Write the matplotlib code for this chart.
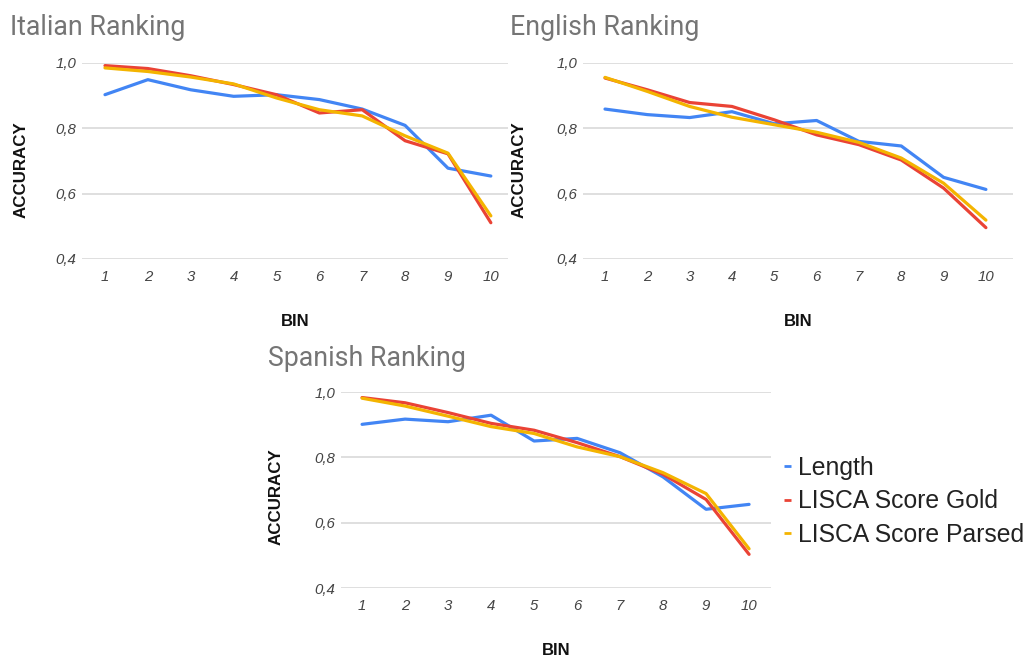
import matplotlib
matplotlib.use("Agg")
import matplotlib.pyplot as plt

plt.rcParams["font.family"] = ["Liberation Sans", "DejaVu Sans"]

bins = [1, 2, 3, 4, 5, 6, 7, 8, 9, 10]
series_names = ["Length", "LISCA Score Gold", "LISCA Score Parsed"]
series_colors = ["#4285F4", "#EA4335", "#F4B400"]

# Italian ranking accuracies per bin
it_length = [0.903, 0.949, 0.918, 0.898, 0.903, 0.888, 0.859, 0.809, 0.678, 0.654]
it_gold = [0.992, 0.983, 0.961, 0.934, 0.903, 0.847, 0.857, 0.762, 0.722, 0.511]
it_parsed = [0.985, 0.974, 0.957, 0.936, 0.893, 0.857, 0.838, 0.777, 0.724, 0.532]

# English ranking accuracies per bin
en_length = [0.859, 0.842, 0.833, 0.851, 0.814, 0.824, 0.760, 0.746, 0.650, 0.613]
en_gold = [0.954, 0.918, 0.879, 0.867, 0.826, 0.780, 0.750, 0.703, 0.617, 0.496]
en_parsed = [0.956, 0.913, 0.867, 0.834, 0.811, 0.788, 0.757, 0.709, 0.632, 0.519]

# Spanish ranking accuracies per bin
es_length = [0.901, 0.917, 0.909, 0.929, 0.850, 0.858, 0.814, 0.740, 0.641, 0.656]
es_gold = [0.983, 0.967, 0.937, 0.904, 0.883, 0.845, 0.802, 0.748, 0.671, 0.503]
es_parsed = [0.981, 0.957, 0.926, 0.894, 0.873, 0.832, 0.802, 0.753, 0.689, 0.520]

y_ticks = [0.4, 0.6, 0.8, 1.0]
y_tick_labels = ["0,4", "0,6", "0,8", "1,0"]

W, H = 1029, 657
fig = plt.figure(figsize=(W / 100, H / 100), dpi=100)
fig.patch.set_facecolor("white")


def px_axes(left, right, top, bottom):
    return fig.add_axes([left / W, 1 - bottom / H, (right - left) / W, (bottom - top) / H])


def draw_panel(ax, title, title_xy, values, xlim, ylab_x, ylab_y):
    for vals, col in zip(values, series_colors):
        ax.plot(bins, vals, color=col, lw=2.3, solid_joinstyle="round",
                solid_capstyle="round", clip_on=False)
    ax.set_xlim(*xlim)
    ax.set_ylim(0.4, 1.0)
    ax.set_yticks(y_ticks)
    ax.set_yticklabels(y_tick_labels)
    ax.set_xticks(bins)
    ax.set_xticklabels([str(b) for b in bins])
    ax.grid(axis="y", color="#d9d9d9", lw=1.2)
    ax.set_axisbelow(True)
    for s in ax.spines.values():
        s.set_visible(False)
    ax.tick_params(axis="both", length=0, labelsize=10.8, labelcolor="#444444")
    ax.tick_params(axis="x", pad=8)
    ax.tick_params(axis="y", pad=4)
    for lab in ax.get_xticklabels() + ax.get_yticklabels():
        lab.set_fontstyle("italic")
    ax.text(ylab_x, ylab_y, "ACCURACY", transform=ax.transAxes, rotation=90,
            ha="center", va="center", fontsize=12.2, fontweight="bold", color="#111111")
    ax.text(0.5, -0.321, "BIN", transform=ax.transAxes, ha="center", va="center",
            fontsize=12, fontweight="bold", color="#111111")
    fig.text(title_xy[0] / W, 1 - title_xy[1] / H, title, ha="left", va="baseline",
             fontsize=19.3, color="#757575", family=["Roboto", "DejaVu Sans"])


ax_it = px_axes(82, 508, 63, 259)
draw_panel(ax_it, "Italian Ranking", (10, 35), [it_length, it_gold, it_parsed],
           (0.464, 10.40), -0.143, 0.454)

ax_en = px_axes(583, 1013, 63, 259)
draw_panel(ax_en, "English Ranking", (510, 35), [en_length, en_gold, en_parsed],
           (0.48, 10.64), -0.149, 0.454)

ax_es = px_axes(341, 771, 392, 588)
draw_panel(ax_es, "Spanish Ranking", (268, 366), [es_length, es_gold, es_parsed],
           (0.51, 10.51), -0.151, 0.464)

leg = fig.legend(ax_es.get_lines(), series_names, loc="upper left",
                 bbox_to_anchor=(784 / W, 1 - 456 / H), frameon=False,
                 handlelength=0.3, handletextpad=0.28,
                 labelspacing=0.38, borderpad=0, borderaxespad=0,
                 prop={"family": ["Liberation Sans", "DejaVu Sans"], "size": 17.8})
for line in leg.get_lines():
    line.set_linewidth(2.0)
    line.set_solid_capstyle("butt")
for t in leg.get_texts():
    t.set_color("#222222")

fig.savefig("out.png", dpi=100, facecolor="white")
